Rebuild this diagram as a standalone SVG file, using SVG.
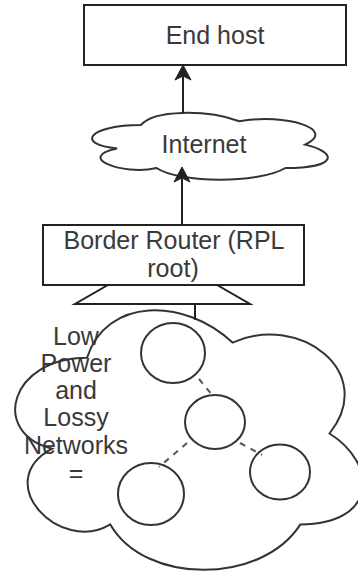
<svg xmlns="http://www.w3.org/2000/svg" width="358" height="571" viewBox="0 0 358 571">
<style>
.box{fill:#fff;stroke:#222;stroke-width:2}
.shape{fill:#fff;stroke:#333;stroke-width:2}
.outline{fill:none;stroke:#333;stroke-width:2}
.node{fill:none;stroke:#333;stroke-width:2}
.txt{font-family:"Liberation Sans",Arial,sans-serif;font-size:25px;fill:#3a3a3a;text-anchor:middle}
.edge{fill:none;stroke:#222;stroke-width:2}
.dash{fill:none;stroke:#555;stroke-width:2;stroke-dasharray:6 6}
.head{fill:#222;stroke:#222;stroke-width:1}
</style>
<rect width="358" height="571" fill="#fff"/>

<g id="end-host">
<rect class="box" x="84" y="5" width="262" height="60"/>
<text class="txt" x="215" y="44">End host</text>
</g>

<g id="internet">
<path class="shape" d="M140.8,125.1 C88.2,125.1 75,144.6 117.1,148.5 C75,157.1 122.3,175.8 156.5,168 C180.2,183.6 259.1,183.6 285.4,168 C338,168 338,152.4 305.1,144.6 C338,129 285.4,113.4 239.4,121.2 C206.5,109.5 153.9,109.5 140.8,125.1 Z"/>
<text class="txt" x="204" y="153">Internet</text>
</g>

<g id="border-router">
<rect class="box" x="43" y="225" width="261" height="60"/>
<text class="txt" x="174" y="249">Border Router (RPL</text>
<text class="txt" x="173" y="277">root)</text>
</g>

<g id="antenna">
<polygon class="box" points="108,285 217,285 250,304 75,304"/>
</g>

<g id="lln-label">
<text class="txt" x="76" y="345">Low</text>
<text class="txt" x="76" y="372">Power</text>
<text class="txt" x="76" y="399">and</text>
<text class="txt" x="76" y="426">Lossy</text>
<text class="txt" x="76" y="454">Networks</text>
<text class="txt" x="76" y="482">=</text>
</g>

<g id="lln-cloud">
<path class="outline" d="M87,357.8 C9.4,357.8 -10,433.5 52.1,448.7 C-10,482 59.8,554.7 110.3,524.4 C145.2,585 261.6,585 300.4,524.4 C378,524.4 378,463.8 329.5,433.5 C378,372.9 300.4,312.3 232.5,342.6 C184,297.2 106.4,297.2 87,357.8 Z"/>
</g>

<g id="node-1"><ellipse class="node" cx="173" cy="353" rx="32" ry="30"/></g>
<g id="node-2"><ellipse class="node" cx="215" cy="422" rx="30" ry="27"/></g>
<g id="node-3"><ellipse class="node" cx="280" cy="472" rx="30" ry="27.5"/></g>
<g id="node-4"><ellipse class="node" cx="151" cy="494" rx="33" ry="31"/></g>

<g id="connectors">
<line class="edge" x1="183" y1="113" x2="183" y2="76"/>
<polygon class="head" points="183,65 175,80 183,76 191,80"/>
<line class="edge" x1="182" y1="225" x2="182" y2="178"/>
<polygon class="head" points="182,167 174,182 182,178 190,182"/>
<line class="edge" x1="195" y1="304" x2="195" y2="320"/>
<line class="dash" x1="199" y1="379" x2="213" y2="396"/>
<line class="dash" x1="240" y1="443" x2="262" y2="455"/>
<line class="dash" x1="187" y1="443" x2="159" y2="467"/>
</g>
</svg>
